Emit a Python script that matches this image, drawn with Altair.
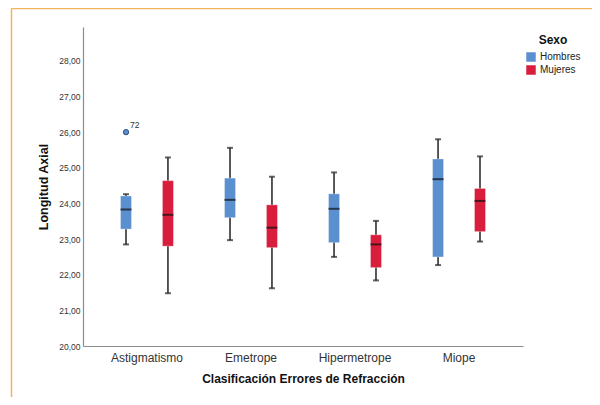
import altair as alt
import pandas as pd

categories = ["Astigmatismo", "Emetrope", "Hipermetrope", "Miope"]
groups = ["Hombres", "Mujeres"]
box_cat = ["Astigmatismo", "Astigmatismo", "Emetrope", "Emetrope",
           "Hipermetrope", "Hipermetrope", "Miope", "Miope"]
box_sex = ["Hombres", "Mujeres"] * 4
lower_w = [22.85, 21.48, 22.97, 21.62, 22.50, 21.84, 22.27, 22.93]
q1 = [23.28, 22.80, 23.60, 22.76, 22.90, 22.20, 22.50, 23.21]
median = [23.83, 23.68, 24.10, 23.32, 23.85, 22.85, 24.68, 24.07]
q3 = [24.21, 24.64, 24.71, 23.96, 24.27, 23.12, 25.25, 24.42]
upper_w = [24.26, 25.29, 25.56, 24.75, 24.87, 23.51, 25.80, 25.32]

out_cat = ["Astigmatismo"]
out_sex = ["Hombres"]
out_val = [26.0]
out_id = ["72"]

y_ticks = [20, 21, 22, 23, 24, 25, 26, 27, 28]
colors = ["#5b90d0", "#d91d3c"]
FONT = "Liberation Sans"

df = pd.DataFrame({"cat": box_cat, "sex": box_sex, "lo": lower_w, "q1": q1,
                   "med": median, "q3": q3, "hi": upper_w})
dfo = pd.DataFrame({"cat": out_cat, "sex": out_sex, "v": out_val, "id": out_id})

x_enc = alt.X("cat:N",
              scale=alt.Scale(domain=categories, paddingOuter=0.115, paddingInner=0),
              axis=alt.Axis(title="Clasificación Errores de Refracción", labelAngle=0,
                            labelFontSize=12, labelColor="#333333", labelPadding=6,
                            titleFontSize=12, titleFontWeight="bold", titlePadding=10,
                            titleColor="#111111"))
xo_enc = alt.XOffset("sex:N", scale=alt.Scale(domain=groups, paddingOuter=0.24, paddingInner=0))
y_scale = alt.Scale(domain=[20, 28.95], nice=False, zero=False)
y_axis = alt.Axis(title="Longitud Axial", values=y_ticks, labelOverlap=False,
                  labelExpr="replace(format(datum.value, '.2f'), '.', ',')",
                  labelFontSize=8.5, labelColor="#333333", labelPadding=3,
                  titleFontSize=12.5, titleFontWeight="bold", titlePadding=8,
                  titleColor="#111111")


def Y(field):
    return alt.Y(field, scale=y_scale, axis=y_axis)


base = alt.Chart(df)

whisk = base.mark_rule(color="#222222", strokeWidth=1.5).encode(
    x=x_enc, xOffset=xo_enc, y=Y("lo:Q"), y2="hi:Q")

boxes = base.mark_bar(size=11, stroke="#ffffff", strokeOpacity=0.4, strokeWidth=0.8).encode(
    x=x_enc, xOffset=xo_enc, y=Y("q1:Q"), y2="q3:Q",
    color=alt.Color("sex:N", scale=alt.Scale(domain=groups, range=colors),
                    legend=alt.Legend(title="Sexo", orient="none", legendX=443, legendY=8,
                                      titleAnchor="middle", titleFontSize=12,
                                      titleFontWeight="bold", titleColor="#111111",
                                      labelFontSize=10, labelColor="#222222",
                                      symbolType="square", symbolSize=90,
                                      symbolStrokeWidth=0, rowPadding=3)))

med = base.mark_tick(color="#111111", size=11, thickness=2).encode(
    x=x_enc, xOffset=xo_enc, y=Y("med:Q"))
cap_lo = base.mark_tick(color="#222222", size=6, thickness=2).encode(
    x=x_enc, xOffset=xo_enc, y=Y("lo:Q"))
cap_hi = base.mark_tick(color="#222222", size=6, thickness=2).encode(
    x=x_enc, xOffset=xo_enc, y=Y("hi:Q"))

outl = alt.Chart(dfo).mark_point(shape="circle", filled=True, size=28, color=colors[0],
                                  stroke="#2b4f7e", strokeWidth=1, opacity=1).encode(
    x=x_enc, xOffset=xo_enc, y=Y("v:Q"))
outl_txt = alt.Chart(dfo).mark_text(align="left", dx=4, dy=-7, fontSize=8.5,
                                    color="#333333", font=FONT).encode(
    x=x_enc, xOffset=xo_enc, y=Y("v:Q"), text="id:N")

one = pd.DataFrame({"a": [0]})
border_left = alt.Chart(one).mark_rule(color="#f4b25c", strokeWidth=1.5).encode(
    x=alt.value(-71.5), y=alt.value(-18.5), y2=alt.value(380))
border_top = alt.Chart(one).mark_rule(color="#f4b25c", strokeWidth=1.5).encode(
    x=alt.value(-71.5), x2=alt.value(520), y=alt.value(-18.5))

chart = alt.layer(whisk, boxes, med, cap_lo, cap_hi, outl, outl_txt,
                  border_left, border_top).properties(
    width=440, height=319,
    autosize=alt.AutoSizeParams(type="none"),
    padding={"left": 75, "top": 19, "right": 69, "bottom": 51},
).configure_view(stroke=None).configure_axis(
    grid=False, ticks=False, domainColor="#8c8c8c", domainWidth=1.2,
    labelFont=FONT, titleFont=FONT
).configure_axisY(labelOverlap=False
).configure_legend(labelFont=FONT, titleFont=FONT).configure_text(font=FONT)

chart.save("out.html", embed_options={"renderer": "svg", "actions": False})
